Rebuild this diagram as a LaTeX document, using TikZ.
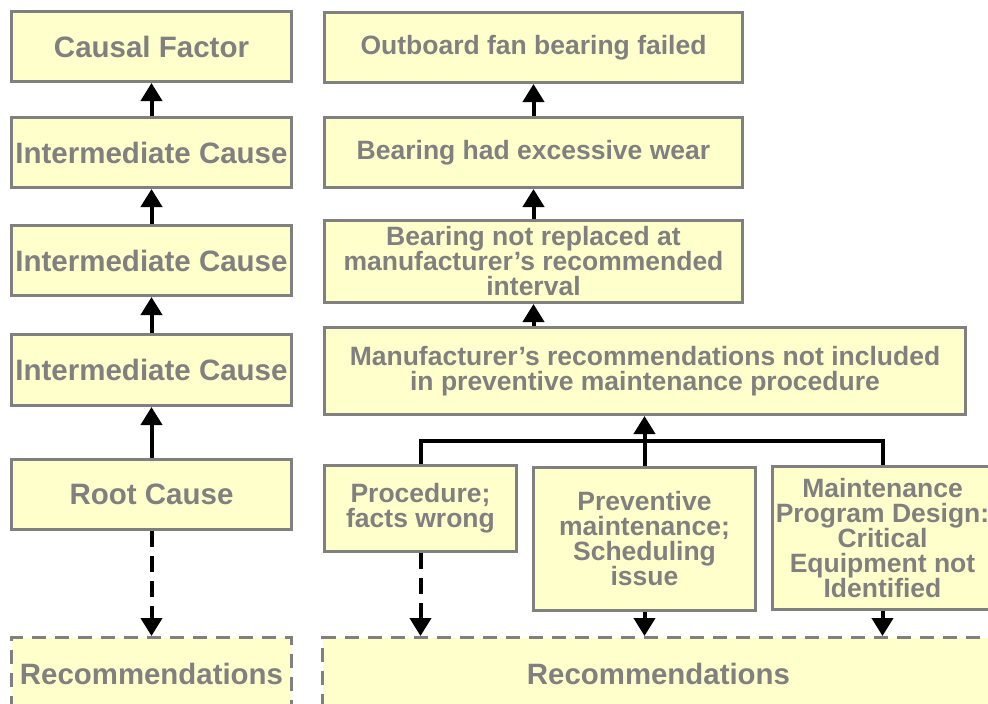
\documentclass[tikz,border=0pt]{standalone}
\usepackage{fontspec}
\setmainfont{Liberation Sans}
\usetikzlibrary{arrows.meta}
\definecolor{boxfill}{HTML}{FFFFCC}
\definecolor{boxline}{HTML}{808080}
\begin{document}
\begin{tikzpicture}[x=1pt,y=-1pt,
  box/.style={draw=boxline, line width=3pt, fill=boxfill, text=boxline,
    font=\bfseries\fontsize{26.5}{25}\selectfont, align=center,
    inner sep=0pt, anchor=north west},
  bigbox/.style={box, font=\bfseries\fontsize{29.5}{29}\selectfont},
  recbox/.style={box, dash pattern=on 14pt off 9pt,
    font=\bfseries\fontsize{29.4}{29}\selectfont},
  arr/.style={line width=4pt, -{Triangle[length=18pt,width=21pt]}},
  darr/.style={arr, dash pattern=on 16pt off 9pt},
  conn/.style={line width=4pt}]
\useasboundingbox (0,0) rectangle (988,704);
\fill[white] (0,0) rectangle (988,704);

% generic chain on the left
\node[bigbox, minimum width=280pt, minimum height=70pt] (cf)  at (10,10)  {Causal Factor};
\node[bigbox, minimum width=280pt, minimum height=70pt] (ic1) at (10,116) {Intermediate Cause};
\node[bigbox, minimum width=280pt, minimum height=70pt] (ic2) at (10,224) {Intermediate Cause};
\node[bigbox, minimum width=280pt, minimum height=71pt] (ic3) at (10,333) {Intermediate Cause};
\node[bigbox, minimum width=280pt, minimum height=70pt] (rc)  at (10,458) {Root Cause};
\node[recbox, minimum width=280pt, minimum height=72pt] (rec1) at (10,636) {Recommendations};

% worked example on the right
\node[box, minimum width=418pt, minimum height=70pt] (of)  at (323,11)  {Outboard fan bearing failed};
\node[box, minimum width=418pt, minimum height=70pt] (bw)  at (323,116) {Bearing had excessive wear};
\node[box, minimum width=418pt, minimum height=82pt] (br)  at (323,219) {Bearing not replaced at\\manufacturer’s recommended\\interval};
\node[box, minimum width=641pt, minimum height=87pt] (mfr) at (323,326) {Manufacturer’s recommendations not included\\in preventive maintenance procedure};
\node[box, minimum width=192pt, minimum height=86pt] (pf)  at (323,464) {Procedure;\\facts wrong};
\node[box, minimum width=222pt, minimum height=143pt] (pm) at (532,466) {Preventive\\maintenance;\\Scheduling\\issue};
\node[box, minimum width=220pt, minimum height=143pt] (md) at (771,465) {Maintenance\\Program Design:\\Critical\\Equipment not\\Identified};
\node[recbox, minimum width=672pt, minimum height=72pt] (rec2) at (321,636) {Recommendations};

% left chain connectors
\draw[arr] (ic1.north) -- (cf.south);
\draw[arr] (ic2.north) -- (ic1.south);
\draw[arr] (ic3.north) -- (ic2.south);
\draw[arr] (rc.north) -- (ic3.south);
\draw[darr] (rc.south) -- (rec1.north);

% right chain connectors
\draw[arr] (bw.north) -- (of.south);
\draw[arr] (br.north) -- (bw.south);
\draw[arr] (br.south |- mfr.north) -- (br.south);
\coordinate (jn) at (643,441);
\draw[conn] (pf.north) |- (jn) -| (md.north);
\draw[arr] (pm.north) -- (mfr.south -| pm.north);
\draw[darr] (pf.south) -- (pf.south |- rec2.north);
\draw[arr] (pm.south) -- (pm.south |- rec2.north);
\draw[arr] (md.south) -- (md.south |- rec2.north);
\end{tikzpicture}
\end{document}
